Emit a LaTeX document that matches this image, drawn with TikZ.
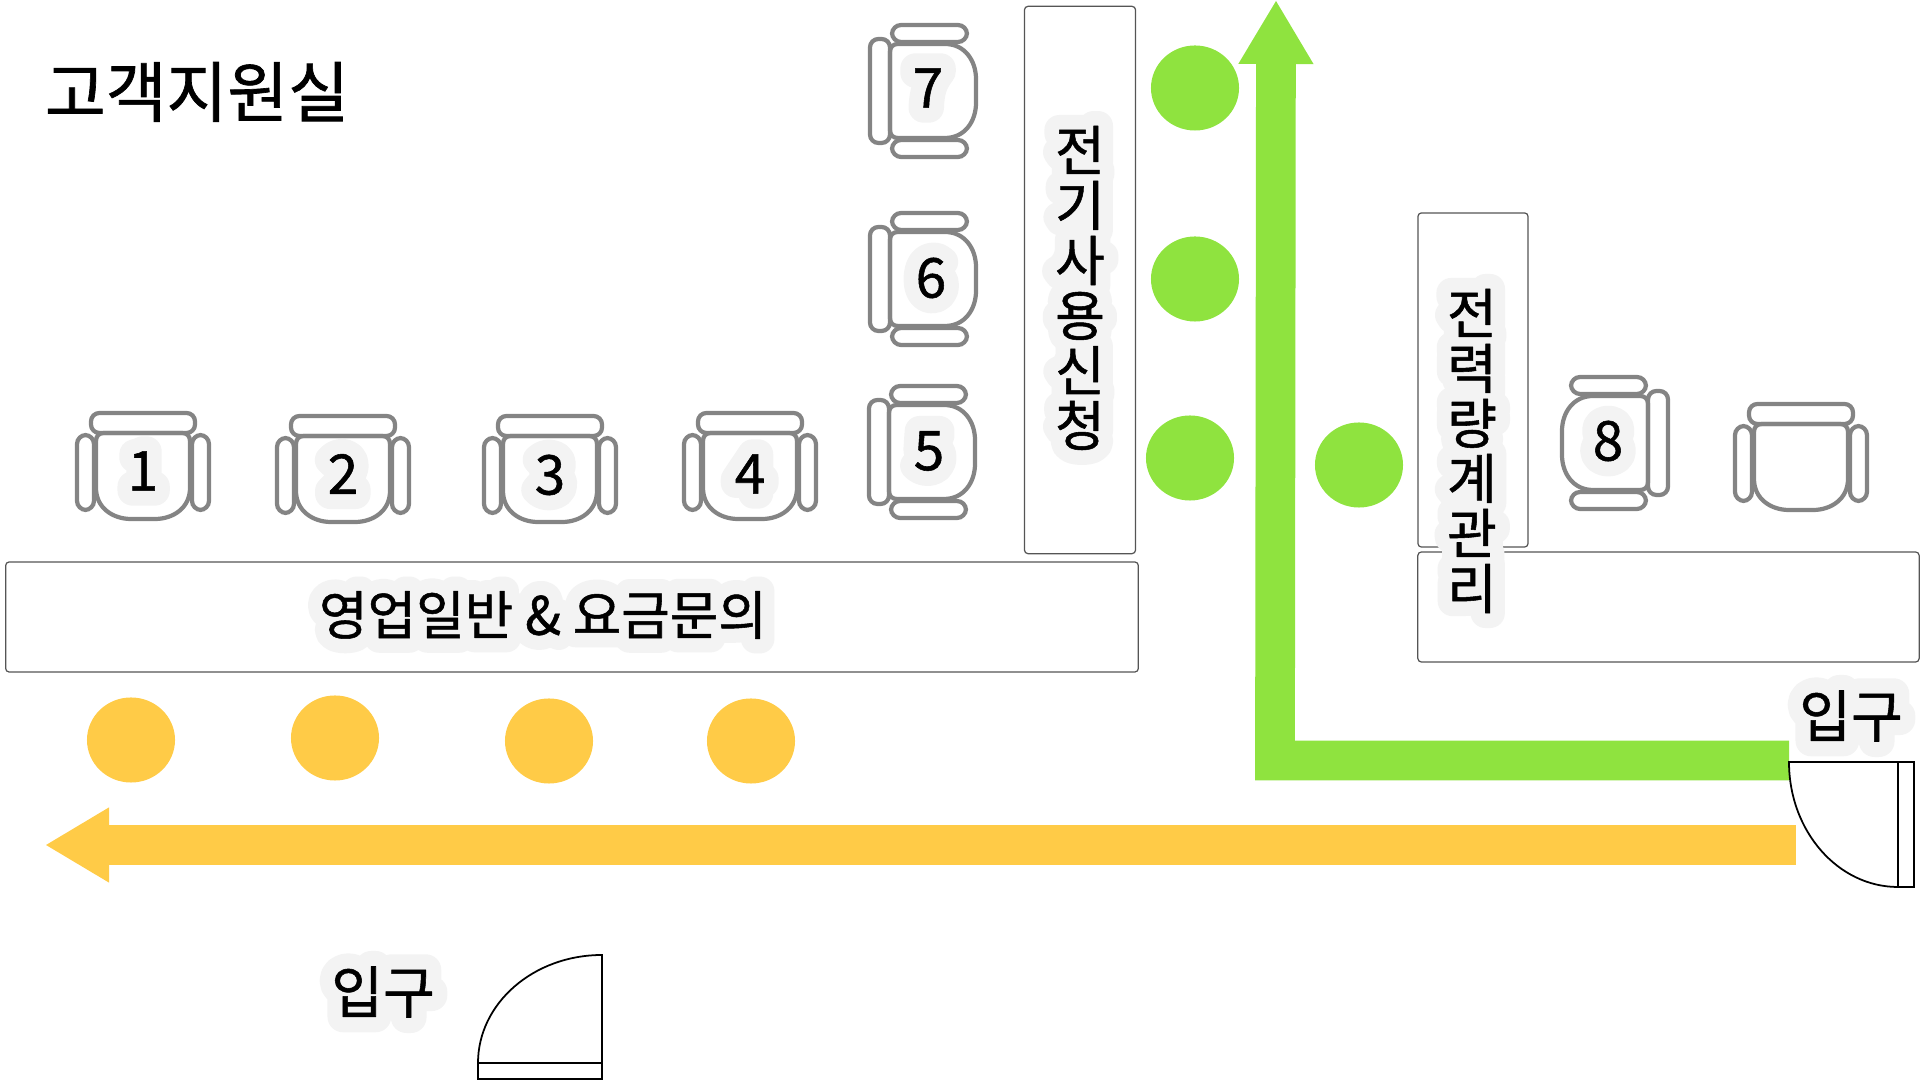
\documentclass[tikz,border=0pt]{standalone}
\usepackage{fontspec}
\usetikzlibrary{arrows.meta,shapes.geometric}
\setmainfont[FakeBold=1]{Noto Sans CJK KR}
\newfontfamily\halofont[FakeBold=55]{Noto Sans CJK KR}
\definecolor{halogray}{HTML}{F3F3F3}
\definecolor{chairgray}{HTML}{848484}
\definecolor{deskgray}{HTML}{555555}
\definecolor{routegreen}{HTML}{8FE33F}
\definecolor{routeorange}{HTML}{FFCB47}

% text with a pale outline behind it
\newcommand{\halotext}[1]{\special{pdf:code 1 j}\makebox[0pt][l]{\color{halogray}\halofont #1}#1}
\newcommand{\halostack}[1]{\halotext{\vbox{\baselineskip=15.65pt\lineskiplimit=-20pt\halign{\hfil##\hfil\cr #1}}}}

\tikzset{
  chair/.pic={
    \draw[chairline, rounded corners=2.4pt] (-52,-53) rectangle (52,-33);
    \draw[chairline, rounded corners=2.6pt] (-66,-31) rectangle (-49,44);
    \draw[chairline, rounded corners=2.6pt] (49,-31) rectangle (66,44);
    \draw[chairline] (-47,-25) .. controls (-47,-30) and (-44,-33) .. (-39,-33) -- (39,-33)
      .. controls (44,-33) and (47,-30) .. (47,-25) -- (47,22)
      .. controls (47,42) and (30,53) .. (12,53) -- (-12,53)
      .. controls (-30,53) and (-47,42) .. (-47,22) -- cycle;
  }
}

\begin{document}
\begin{tikzpicture}[x=0.01cm, y=-0.01cm]
  \tikzstyle{chairline}=[draw=chairgray, line width=1.2pt]
  \tikzstyle{desk}=[rectangle, rounded corners=1pt, draw=deskgray, line width=0.35pt, fill=white]
  \tikzstyle{greendot}=[ellipse, fill=routegreen, minimum width=0.88cm, minimum height=0.85cm, inner sep=0pt]
  \tikzstyle{orangedot}=[ellipse, fill=routeorange, minimum width=0.88cm, minimum height=0.85cm, inner sep=0pt]
  \tikzstyle{signtext}=[inner sep=0pt, font=\fontsize{15.4}{15.65}\selectfont]
  \tikzstyle{doortext}=[inner sep=0pt, font=\fontsize{16}{18}\selectfont]
  \tikzstyle{seatnum}=[inner sep=0pt, font=\fontsize{15.6}{18}\selectfont]
  \tikzstyle{doorline}=[draw=black, line width=0.5pt, fill=white]

  \useasboundingbox (0,0) rectangle (1920,1080);

  % = chairs =
  \pic (chairone) at (143,466) {chair};
  \pic (chairtwo) at (343,469) {chair};
  \pic (chairthree) at (550,469) {chair};
  \pic (chairfour) at (750,466) {chair};
  \pic[rotate=90] (chairfive) at (922,452) {chair};
  \pic[rotate=90] (chairsix) at (923,279) {chair};
  \pic[rotate=90] (chairseven) at (923,91) {chair};
  \pic[rotate=-90] (chaireight) at (1615,443) {chair};
  \pic (chairfree) at (1801,457) {chair};

  % = desks =
  \node[desk, minimum width=11.32cm, minimum height=1.10cm] (salesdesk) at (572,617) {};
  \node[desk, minimum width=1.11cm, minimum height=5.47cm] (applydesk) at (1080,280) {};
  \node[desk, minimum width=1.10cm, minimum height=3.34cm] (meterdesk) at (1473,380) {};
  \node[desk, minimum width=5.01cm, minimum height=1.10cm] (counterdesk) at (1668.5,607) {};

  % = routes =
  \coordinate (greenstart) at (1789,760.5);
  \coordinate (greenturn) at (1275,760.5);
  \coordinate (greentip) at (1276,0);
  \draw[routegreen, line width=11.3pt, -{Triangle[length=18.2pt, width=20pt]}] (greenstart) -- (greenturn) -- (greentip);
  \coordinate (orangestart) at (1796,845);
  \coordinate (orangetip) at (45,845);
  \draw[routeorange, line width=11.3pt, -{Triangle[length=18.2pt, width=20pt]}] (orangestart) -- (orangetip);

  % waiting spots
  \node[greendot] (spotseven) at (1195,88) {};
  \node[greendot] (spotsix) at (1195,279) {};
  \node[greendot] (spotfive) at (1190,458) {};
  \node[greendot] (spoteight) at (1359,465) {};
  \node[orangedot] (spotone) at (131,740) {};
  \node[orangedot] (spottwo) at (335,738) {};
  \node[orangedot] (spotthree) at (549,741) {};
  \node[orangedot] (spotfour) at (751,741) {};

  % = labels =
  \node[font=\fontsize{18.8}{22}\selectfont, inner sep=0pt] (roomname) at (197,92) {고객지원실};
  \node[signtext, font=\fontsize{15}{15.65}\selectfont] (saleslabel) at (543,615) {\halotext{영업일반 \& 요금문의}};
  \node[signtext] (applylabel) at (1080,288) {\halostack{전\cr 기\cr 사\cr 용\cr 신\cr 청\cr}};
  \node[signtext] (meterlabel) at (1472,451) {\halostack{전\cr 력\cr 량\cr 계\cr 관\cr 리\cr}};
  \node[doortext] (doorright) at (1851,716) {\halotext{입구}};
  \node[doortext] (doorleft) at (383,992) {\halotext{입구}};
  \node[seatnum] (numone) at (143,471) {\halotext{1}};
  \node[seatnum] (numtwo) at (343,474) {\halotext{2}};
  \node[seatnum] (numthree) at (550,475) {\halotext{3}};
  \node[seatnum] (numfour) at (750,474) {\halotext{4}};
  \node[seatnum] (numfive) at (929,451) {\halotext{5}};
  \node[seatnum] (numsix) at (931,278) {\halotext{6}};
  \node[seatnum] (numseven) at (928,88) {\halotext{7}};
  \node[seatnum] (numeight) at (1608,441) {\halotext{8}};

  % = doors =
  \draw[doorline] (1898,887) arc[start angle=90, end angle=180, x radius=109, y radius=125] -- (1914,762) -- (1914,887) -- cycle;
  \draw[doorline] (1898,762) -- (1898,887);
  \draw[doorline] (478,1063) arc[start angle=180, end angle=270, x radius=124, y radius=108] -- (602,1079) -- (478,1079) -- cycle;
  \draw[doorline] (478,1063) -- (602,1063);
\end{tikzpicture}
\end{document}
